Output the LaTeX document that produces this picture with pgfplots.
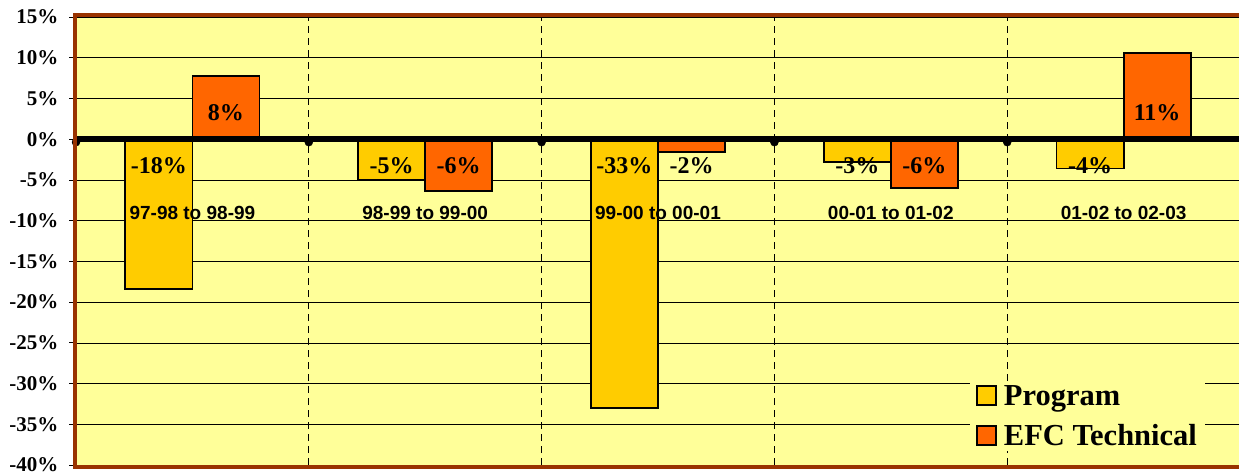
\documentclass[border=0pt]{standalone}
\usepackage{fontspec}
\setmainfont{Liberation Serif}
\setsansfont{Liberation Sans}
\usepackage{pgfplots}
\pgfplotsset{compat=1.18}
\definecolor{bgyel}{HTML}{FFFF99}
\definecolor{progc}{HTML}{FFCC00}
\definecolor{efcc}{HTML}{FF6600}
\definecolor{brd}{HTML}{993300}
\begin{document}
\begin{tikzpicture}
\begin{axis}[
  scale only axis, width=1164pt, height=448pt,
  xmin=-0.5, xmax=4.5, ymin=-40, ymax=15,
  axis background/.style={fill=bgyel},
  ytick={-40,-35,...,15},
  ymajorgrids, y grid style={black, line width=0.6pt},
  xtick={0.5,1.5,2.5,3.5}, xticklabel=\empty,
  xmajorgrids, x grid style={black, line width=0.8pt, dash pattern=on 7pt off 5pt},
  x tick style={draw=none},
  y tick style={black, line width=0.8pt},
  tick align=outside, major tick length=7pt,
  yticklabel={\pgfmathprintnumber{\tick}\%},
  /pgf/number format/assume math mode=true,
  yticklabel style={font=\fontsize{21}{24}\selectfont\bfseries, xshift=-7pt},
  axis line style={black, line width=1pt},
  clip=false,
  legend style={at={(0.97,0.03)}, anchor=south east, fill=bgyel, draw=none,
    font=\fontsize{30.5}{35}\selectfont\bfseries, row sep=14pt,
    inner xsep=6pt, inner ysep=2pt},
  legend cell align=left,
  legend image code/.code={\draw[#1, draw=black, line width=1.8pt] (0pt,-9pt) rectangle (19pt,10pt); \path (24pt,0pt);},
]
\addplot[ybar, bar width=0.288, bar shift=-0.144, fill=progc, draw=black, line width=1.8pt]
  coordinates {(0,-18.4) (1,-5.0) (2,-33.0) (3,-2.8) (4,-3.6)};
\addlegendentry{Program}
\addplot[ybar, bar width=0.288, bar shift=0.144, fill=efcc, draw=black, line width=1.8pt]
  coordinates {(0,7.8) (1,-6.4) (2,-1.6) (3,-6.0) (4,10.6)};
\addlegendentry{EFC Technical}
\addplot[black, line width=6pt, forget plot] coordinates {(-0.5,0) (4.5,0)};
\addplot[only marks, mark=*, mark size=4pt, black, forget plot, yshift=-3pt]
  coordinates {(-0.5,0) (0.5,0) (1.5,0) (2.5,0) (3.5,0)};
\addplot[draw=none, forget plot, nodes near coords, point meta=explicit symbolic,
  nodes near coords style={anchor=center, font=\fontsize{24}{26}\selectfont\bfseries}]
  coordinates {(-0.144,-3.2) [-18\%] (0.856,-3.2) [-5\%] (1.856,-3.2) [-33\%] (2.856,-3.2) [-3\%] (3.856,-3.2) [-4\%]
               (0.144,3.2) [8\%] (1.144,-3.2) [-6\%] (2.144,-3.2) [-2\%] (3.144,-3.2) [-6\%] (4.144,3.2) [11\%]};
\addplot[draw=none, forget plot, nodes near coords, point meta=explicit symbolic,
  nodes near coords style={anchor=center, font=\sffamily\bfseries\fontsize{19}{22}\selectfont}]
  coordinates {(0,-9) [97-98 to 98-99] (1,-9) [98-99 to 99-00] (2,-9) [99-00 to 00-01] (3,-9) [00-01 to 01-02] (4,-9) [01-02 to 02-03]};
\coordinate (sw) at (rel axis cs:0,0);
\coordinate (ne) at (rel axis cs:1,1);
\end{axis}
\draw[brd, line width=4pt] ([shift={(-1.5pt,-1.5pt)}]sw) rectangle ([shift={(1.5pt,1.5pt)}]ne);
\pgfresetboundingbox
\path[use as bounding box] ([shift={(-76pt,-10pt)}]sw) rectangle ([shift={(-1pt,17pt)}]ne);
\end{tikzpicture}
\end{document}
